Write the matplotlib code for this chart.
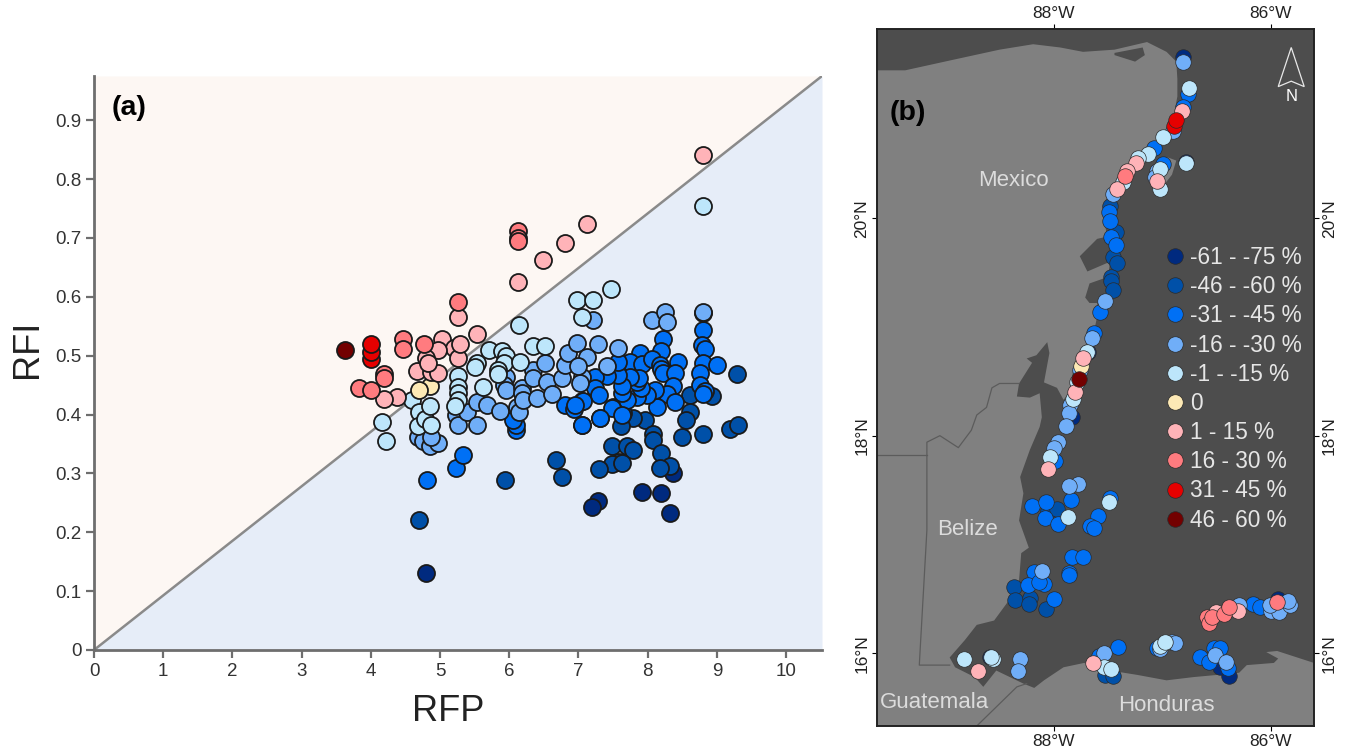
import matplotlib
matplotlib.use("Agg")
import matplotlib.pyplot as plt
from matplotlib.lines import Line2D
from matplotlib.patches import Polygon

plt.rcParams['font.family'] = ['Liberation Sans', 'DejaVu Sans']

class_labels = ['-61 - -75 %', '-46 - -60 %', '-31 - -45 %', '-16 - -30 %', '-1 - -15 %',
                '0', '1 - 15 %', '16 - 30 %', '31 - 45 %', '46 - 60 %']
class_colors = ['#002a7f', '#0050a8', '#0070f5', '#70aef8', '#bde6fb',
                '#fde9b5', '#ffb3b8', '#ff7b7f', '#e60000', '#730000']

# ---- panel (a): RFP / RFI per class ----
rfp_c0 = [4.8, 7.92, 8.2, 8.32, 8.37, 7.28, 7.2]
rfi_c0 = [.131, .268, .266, .232, .30, .253, .243]
rfp_c1 = [4.7, 5.94, 6.68, 6.76, 9.29, 8.61, 8.93, 8.61, 8.55, 8.5, 8.8, 9.19, 9.3, 7.96, 7.79, 7.62,
          8.08, 8.08, 8.2, 8.32, 8.18, 7.49, 7.7, 7.79, 7.59, 7.49, 7.3, 7.63]
rfi_c1 = [.221, .289, .322, .294, .469, .433, .431, .404, .39, .361, .367, .375, .382, .39, .394, .38,
          .367, .357, .334, .312, .309, .346, .346, .34, .32, .316, .307, .318]
rfp_c2 = [4.81, 5.23, 5.33, 6.1, 6.1, 6.06, 6.8, 6.94, 7.05, 7.05, 7.31, 7.5, 7.65, 8.22, 8.2, 7.89, 8.44,
          8.8, 8.78, 8.83, 8.8, 9.0, 8.76, 8.76, 8.83, 8.8, 7.75, 7.92, 8.06, 8.18, 8.2, 8.22, 8.4, 8.37,
          8.28, 8.4, 8.13, 8.1, 7.99, 7.85, 7.9, 7.85, 7.87, 7.75, 7.7, 7.63, 7.63, 7.57, 7.57, 7.42,
          7.24, 7.24, 7.3, 7.06, 6.95, 7.48, 7.63, 7.31, 7.05]
rfi_c2 = [.289, .309, .331, .374, .382, .39, .417, .41, .423, .382, .394, .413, .402, .528, .508, .504, .489,
          .543, .518, .512, .487, .484, .47, .45, .44, .435, .489, .485, .494, .484, .478, .47, .47, .448,
          .435, .421, .413, .441, .433, .43, .445, .455, .462, .464, .424, .436, .448, .467, .49, .465,
          .464, .445, .433, .423, .417, .411, .40, .394, .382]
rfp_c3 = [7.21, 8.8, 4.68, 4.75, 4.85, 4.97, 4.87, 5.23, 5.26, 5.39, 5.53, 5.68, 5.53, 5.87, 5.96, 5.93,
          5.96, 6.11, 6.14, 6.18, 6.18, 6.2, 6.35, 6.35, 6.4, 6.52, 6.55, 6.62, 6.76, 6.8, 6.85, 6.98,
          7.05, 7.02, 7.28, 7.12, 7.0, 7.41, 7.57, 8.06, 8.25, 8.28, 8.8]
rfi_c3 = [.56, .572, .361, .355, .347, .351, .362, .399, .383, .404, .421, .417, .382, .406, .464, .45,
          .442, .413, .405, .445, .437, .425, .475, .462, .428, .487, .455, .435, .462, .484, .504, .521,
          .464, .454, .52, .498, .483, .482, .513, .56, .574, .557, .574]
rfp_c4 = [4.16, 4.22, 4.6, 4.7, 4.68, 4.78, 4.85, 4.87, 5.26, 5.26, 5.26, 5.26, 5.22, 5.62, 5.53, 5.5,
          5.71, 5.89, 5.96, 5.93, 5.84, 5.84, 6.16, 6.14, 6.35, 6.52, 6.98, 7.21, 7.05, 7.47, 8.8]
rfi_c4 = [.387, .355, .424, .404, .38, .392, .415, .383, .465, .447, .436, .425, .415, .447, .487, .48,
          .509, .508, .50, .487, .475, .468, .489, .552, .516, .516, .594, .594, .566, .614, .755]
rfp_c5 = [4.86, 4.7]
rfi_c5 = [.448, .441]
rfp_c6 = [8.8, 7.12, 6.8, 6.49, 6.13, 5.26, 5.54, 5.03, 5.2, 5.26, 5.29, 4.97, 4.8, 4.67, 4.87, 4.97,
          4.38, 4.19, 4.83]
rfi_c6 = [.84, .724, .692, .662, .625, .566, .536, .528, .513, .496, .52, .509, .496, .474, .472, .47,
          .43, .426, .487]
rfp_c7 = [4.47, 4.47, 4.77, 4.19, 4.19, 3.83, 4.0, 5.26, 6.13, 6.13, 6.13]
rfi_c7 = [.528, .511, .52, .469, .462, .445, .441, .591, .711, .70, .695]
rfp_c8 = [4.0, 4.0, 4.0]
rfi_c8 = [.495, .507, .52]
rfp_c9 = [3.63]
rfi_c9 = [.51]

rfp_all = [rfp_c0, rfp_c1, rfp_c2, rfp_c3, rfp_c4, rfp_c5, rfp_c6, rfp_c7, rfp_c8, rfp_c9]
rfi_all = [rfi_c0, rfi_c1, rfi_c2, rfi_c3, rfi_c4, rfi_c5, rfi_c6, rfi_c7, rfi_c8, rfi_c9]

rfp_ticks = list(range(0, 11))
rfi_ticks = [0, .1, .2, .3, .4, .5, .6, .7, .8, .9]
rfi_tick_labels = ['0', '0.1', '0.2', '0.3', '0.4', '0.5', '0.6', '0.7', '0.8', '0.9']

# ---- panel (b): station longitude / latitude per class ----
lon_c0 = [-86.81, -86.78, -87.68, -87.83, -88.59, -86.38, -86.47, -85.93]
lat_c0 = [21.48, 20.52, 18.77, 18.17, 15.96, 15.79, 15.87, 16.50]
lon_c1 = [-87.48, -87.43, -87.45, -87.42, -87.47, -87.47, -87.45, -88.05, -88.37, -88.36, -88.22, -88.23,
          -88.07, -87.53, -87.45, -87.97]
lat_c1 = [20.11, 19.87, 19.64, 19.59, 19.46, 19.42, 19.34, 17.31, 16.61, 16.49, 16.51, 16.45,
          16.41, 15.80, 15.79, 17.33]
lon_c2 = [-86.76, -86.81, -87.08, -86.99, -87.49, -87.48, -87.47, -87.43, -87.57, -87.63, -87.99, -87.84,
          -88.20, -88.07, -88.08, -87.96, -87.48, -87.59, -87.67, -87.63, -87.83, -87.73, -87.86, -87.86,
          -88.18, -88.24, -88.09, -88.14, -88.00, -87.41, -87.58, -87.05, -86.52, -86.47, -86.65, -86.57,
          -86.39, -86.16, -86.10]
lat_c2 = [21.14, 21.02, 20.65, 20.50, 20.06, 19.97, 19.83, 19.75, 19.14, 18.94, 17.77, 17.41,
          17.35, 17.39, 17.24, 17.19, 17.43, 17.26, 17.17, 17.15, 16.88, 16.88, 16.74, 16.72,
          16.75, 16.63, 16.64, 16.65, 16.50, 16.06, 15.97, 16.05, 16.05, 16.05, 15.96, 15.92,
          15.86, 16.45, 16.42]
lon_c3 = [-86.81, -86.90, -87.05, -87.07, -87.45, -87.53, -87.65, -87.76, -87.85, -87.86, -87.89, -87.96,
          -88.00, -87.78, -87.86, -88.11, -88.31, -88.33, -87.54, -86.91, -87.02, -86.88, -86.51, -86.41,
          -86.29, -86.00, -85.92, -85.82, -85.84, -86.01]
lat_c3 = [21.44, 20.80, 20.43, 20.38, 20.22, 19.24, 18.90, 18.60, 18.28, 18.21, 18.09, 17.94,
          17.89, 17.56, 17.54, 16.76, 15.95, 15.84, 16.00, 16.10, 16.04, 16.09, 15.98, 15.92,
          16.44, 16.39, 16.38, 16.44, 16.48, 16.44]
lon_c4 = [-86.75, -86.99, -87.13, -87.22, -87.36, -86.78, -87.02, -87.02, -87.69, -87.79, -87.82, -88.03,
          -87.87, -87.49, -88.83, -88.56, -88.58, -87.54, -87.47, -86.98, -87.02, -86.97]
lat_c4 = [21.20, 20.75, 20.59, 20.55, 20.33, 20.51, 20.45, 20.27, 18.77, 18.49, 18.34, 17.80,
          17.25, 17.39, 15.95, 15.95, 15.96, 15.87, 15.85, 16.09, 16.07, 16.10]
lon_c5 = [-87.75]
lat_c5 = [18.64]
lon_c6 = [-86.82, -87.24, -87.32, -87.42, -87.05, -87.73, -87.80, -88.05, -88.70, -87.64, -86.50, -86.30]
lat_c6 = [20.99, 20.51, 20.43, 20.27, 20.34, 18.71, 18.40, 17.69, 15.84, 15.91, 16.38, 16.39]
lon_c7 = [-87.34, -86.59, -86.57, -86.54, -86.43, -86.38, -85.94]
lat_c7 = [20.39, 16.33, 16.28, 16.33, 16.36, 16.42, 16.47]
lon_c8 = [-86.89, -86.87]
lat_c8 = [20.85, 20.90]
lon_c9 = [-87.77]
lat_c9 = [18.52]

lon_all = [lon_c0, lon_c1, lon_c2, lon_c3, lon_c4, lon_c5, lon_c6, lon_c7, lon_c8, lon_c9]
lat_all = [lat_c0, lat_c1, lat_c2, lat_c3, lat_c4, lat_c5, lat_c6, lat_c7, lat_c8, lat_c9]

# land outline, north-west corner round the coast to the south-east corner
coast_lon = [-89.63, -89.37, -88.96, -88.50, -88.19, -87.94, -87.73, -87.44, -87.14, -86.96, -86.87, -86.86,
             -86.86, -86.90, -86.99, -87.14, -87.33, -87.46, -87.55, -87.51, -87.60, -87.76, -87.69, -87.48,
             -87.50, -87.67, -87.71, -87.67, -87.60, -87.59, -87.62, -87.72, -87.82, -87.86, -87.91, -87.97,
             -88.09, -88.04, -88.06, -88.16, -88.25, -88.20, -88.32, -88.34, -88.22, -88.13, -88.11, -88.13,
             -88.22, -88.31, -88.28, -88.32, -88.23, -88.30, -88.32, -88.41, -88.55, -88.71, -88.82, -88.96,
             -88.91, -88.73, -88.65, -88.53, -88.28, -88.18, -88.09, -87.91, -87.72, -87.48, -87.23, -86.96,
             -86.71, -86.38, -86.29, -86.22, -85.97, -85.93, -86.04, -85.94, -85.60, -85.60, -89.63]
coast_lat = [21.36, 21.36, 21.45, 21.55, 21.60, 21.57, 21.53, 21.55, 21.62, 21.53, 21.44, 21.28,
             21.12, 20.91, 20.75, 20.61, 20.45, 20.27, 20.11, 19.83, 19.81, 19.65, 19.51, 19.60,
             19.46, 19.40, 19.27, 19.22, 19.22, 19.14, 19.00, 18.79, 18.60, 18.39, 18.33, 18.44,
             18.49, 18.76, 18.86, 18.74, 18.71, 18.67, 18.48, 18.36, 18.35, 18.39, 18.17, 18.08,
             17.87, 17.62, 17.47, 17.22, 16.97, 16.92, 16.67, 16.49, 16.30, 16.26, 16.12, 15.96,
             15.87, 15.78, 15.69, 15.84, 15.72, 15.68, 15.75, 15.87, 15.91, 15.84, 15.80, 15.75,
             15.78, 15.81, 15.82, 15.89, 15.91, 15.95, 16.01, 16.02, 15.91, 15.33, 15.33]
cozumel_lon = [-86.95, -86.87, -86.91, -87.02, -87.07, -87.02]
cozumel_lat = [20.56, 20.53, 20.40, 20.26, 20.35, 20.49]
lagoon_lon = [-87.44, -87.18, -87.16, -87.25, -87.44]
lagoon_lat = [21.52, 21.57, 21.50, 21.44, 21.50]
border_mx_bz_lon = [-88.32, -88.50, -88.57, -88.62, -88.71, -88.76, -88.88, -89.05, -89.17, -89.17, -89.24, -88.96]
border_mx_bz_lat = [18.48, 18.48, 18.44, 18.26, 18.19, 18.05, 17.89, 18.00, 17.94, 17.13, 15.89, 15.89]
border_mx_gt_lon = [-89.63, -89.17]
border_mx_gt_lat = [17.82, 17.82]
border_gt_hn_lon = [-88.71, -88.34, -88.25]
border_gt_hn_lat = [15.33, 15.69, 15.72]
arrow_lon = [-85.81, -85.93, -85.81, -85.69]
arrow_lat = [21.57, 21.21, 21.26, 21.21]

lon_ticks = [-88, -86]
lon_tick_labels = ['88°W', '86°W']
lat_ticks = [16, 18, 20]
lat_tick_labels = ['16°N', '18°N', '20°N']
places = ['Mexico', 'Belize', 'Guatemala', 'Honduras']
place_lon = [-88.37, -88.80, -89.10, -86.96]
place_lat = [20.35, 17.14, 15.55, 15.52]

W, H = 1348, 749
fig = plt.figure(figsize=(W / 100, H / 100), dpi=100, facecolor='white')

# ---------- panel (a) ----------
ax = fig.add_axes([94 / W, (H - 650) / H, 728 / W, 574 / H])
xmax, ymax = 10.52, 0.975
ax.set_xlim(0, xmax)
ax.set_ylim(0, ymax)
ax.fill_between([0, xmax], [0, ymax], [ymax, ymax], color='#fdf7f3', lw=0, zorder=0)
ax.fill_between([0, xmax], [0, 0], [0, ymax], color='#e6edf8', lw=0, zorder=0)
ax.plot([0, xmax], [0, ymax], color='#8a8a8a', lw=1.8, zorder=1, solid_capstyle='butt')
for xs, ys, c in zip(rfp_all, rfi_all, class_colors):
    ax.scatter(xs, ys, s=150, c=c, edgecolors='#1a1a1a', linewidths=1.3, zorder=3, clip_on=False)
for s in ('top', 'right'):
    ax.spines[s].set_visible(False)
for s in ('left', 'bottom'):
    ax.spines[s].set_color('#6e6e6e')
    ax.spines[s].set_linewidth(2)
ax.set_xticks(rfp_ticks)
ax.set_yticks(rfi_ticks)
ax.set_yticklabels(rfi_tick_labels)
ax.tick_params(axis='both', length=6, width=1.6, color='#6e6e6e', labelsize=13.5, labelcolor='#333333', pad=3)
ax.set_xlabel('RFP', fontsize=26, color='#222222', va='center')
ax.set_ylabel('RFI', fontsize=26, color='#222222', va='center')
ax.xaxis.set_label_coords(0.486, -0.108)
ax.yaxis.set_label_coords(-0.092, 0.525)
ax.text(0.024, 0.945, '(a)', transform=ax.transAxes, fontsize=20.5, fontweight='bold', va='center', ha='left')

# ---------- panel (b) ----------
mx = fig.add_axes([877 / W, (H - 726) / H, 437 / W, 697 / H])
mx.set_facecolor('#4d4d4d')
mx.set_xlim(-89.63, -85.60)
mx.set_ylim(15.33, 21.74)
land = '#808080'
mx.add_patch(Polygon(list(zip(coast_lon, coast_lat)), closed=True, fc=land, ec='none', zorder=1))
mx.add_patch(Polygon(list(zip(cozumel_lon, cozumel_lat)), closed=True, fc=land, ec='none', zorder=1))
mx.add_patch(Polygon(list(zip(lagoon_lon, lagoon_lat)), closed=True, fc='#4d4d4d', ec='none', zorder=1))
for bx, by in ((border_mx_bz_lon, border_mx_bz_lat), (border_mx_gt_lon, border_mx_gt_lat),
               (border_gt_hn_lon, border_gt_hn_lat)):
    mx.plot(bx, by, color='#5c5c5c', lw=0.9, zorder=2)
for xs, ys, c in zip(lon_all, lat_all, class_colors):
    mx.scatter(xs, ys, s=125, c=c, edgecolors='#2a2a2a', linewidths=0.5, zorder=3)
for name, lo, la in zip(places, place_lon, place_lat):
    mx.text(lo, la, name, color='#dcdcdc', fontsize=16, ha='center', va='center', zorder=4)
mx.add_patch(Polygon(list(zip(arrow_lon, arrow_lat)), closed=True, fc='none', ec='#e8e8e8', lw=0.9, zorder=4))
mx.text(arrow_lon[0], 21.12, 'N', color='white', fontsize=12, ha='center', va='center', zorder=4)
mx.text(0.030, 0.880, '(b)', transform=mx.transAxes, fontsize=20.5, fontweight='bold', va='center', ha='left', color='black', zorder=5)

handles = [Line2D([], [], ls='none', marker='o', ms=11.2, mfc=c, mec='#2a2a2a', mew=0.5) for c in class_colors]
leg = mx.legend(handles, class_labels, loc='upper left', bbox_to_anchor=(0.650, 0.6886), frameon=False,
                fontsize=16.3, labelcolor='#e6e6e6', labelspacing=0.273, handletextpad=0.1,
                handlelength=1.2, borderpad=0, borderaxespad=0)
leg.set_zorder(6)

mx.set_xticks(lon_ticks)
mx.set_xticklabels(lon_tick_labels)
mx.set_yticks(lat_ticks)
mx.set_yticklabels(lat_tick_labels)
mx.tick_params(axis='both', which='both', top=True, bottom=True, left=True, right=True,
               labeltop=True, labelbottom=True, labelleft=True, labelright=True,
               length=3.5, width=0.8, labelsize=12.5, labelcolor='#222222', pad=2)
for lab in mx.get_yticklabels():
    lab.set_rotation(90)
    lab.set_va('center')
for s in mx.spines.values():
    s.set_color('#222222')
    s.set_linewidth(1.4)

fig.savefig('out.png', dpi=100, facecolor='white')
